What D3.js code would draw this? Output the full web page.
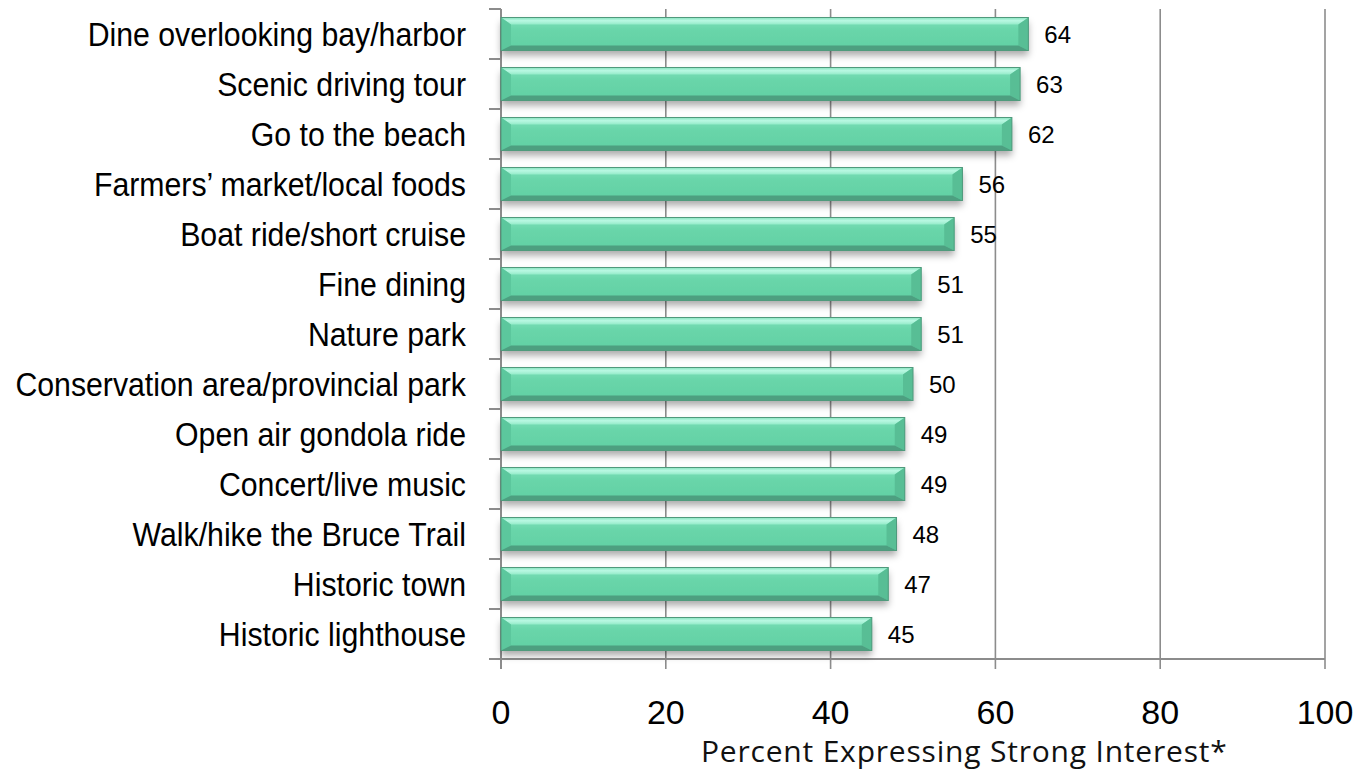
<!DOCTYPE html>
<html>
<head>
<meta charset="utf-8">
<script src="https://cdn.jsdelivr.net/npm/d3@7"></script>
<style>
  html, body { margin: 0; padding: 0; background: #fff; }
  svg { display: block; }
</style>
</head>
<body>
<svg id="chart" width="1359" height="772"></svg>
<script>
// Activities, ordered top to bottom
const categories = [
  "Dine overlooking bay/harbor",
  "Scenic driving tour",
  "Go to the beach",
  "Farmers\u2019 market/local foods",
  "Boat ride/short cruise",
  "Fine dining",
  "Nature park",
  "Conservation area/provincial park",
  "Open air gondola ride",
  "Concert/live music",
  "Walk/hike the Bruce Trail",
  "Historic town",
  "Historic lighthouse"
];
// Percent expressing strong interest
const values = [64, 63, 62, 56, 55, 51, 51, 50, 49, 49, 48, 47, 45];
const xTicks = [0, 20, 40, 60, 80, 100];
const xTitle = "Percent Expressing Strong Interest*";

(function draw() {
  const svg = d3.select("#chart");
  const plotLeft = 501, plotRight = 1325, plotTop = 9, plotBottom = 659;

  const x = d3.scaleLinear().domain([0, 100]).range([plotLeft, plotRight]);
  const y = d3.scaleBand().domain(categories).range([plotTop, plotBottom])
    .paddingInner(0.34).paddingOuter(0.17);

  const defs = svg.append("defs");
  const face = defs.append("linearGradient").attr("id", "faceFill")
    .attr("x1", 0).attr("y1", 0).attr("x2", 0).attr("y2", 1);
  [["0%", "#7ee0ba"], ["40%", "#68d5a9"], ["100%", "#62d0a4"]]
    .forEach(([o, c]) => face.append("stop").attr("offset", o).attr("stop-color", c));

  const topFacet = defs.append("linearGradient").attr("id", "topFacet")
    .attr("x1", 0).attr("y1", 0).attr("x2", 0).attr("y2", 1);
  [["0%", "#86e3be"], ["45%", "#b9f8e2"], ["100%", "#94ebc9"]]
    .forEach(([o, c]) => topFacet.append("stop").attr("offset", o).attr("stop-color", c));

  const shadow = defs.append("filter").attr("id", "barShadow")
    .attr("x", "-5%").attr("y", "-30%").attr("width", "110%").attr("height", "190%");
  shadow.append("feDropShadow").attr("dx", 0).attr("dy", 5).attr("stdDeviation", 3.5)
    .attr("flood-color", "#000").attr("flood-opacity", 0.33);

  // Vertical gridlines with tick extensions
  svg.append("g").selectAll("line").data(xTicks.slice(1)).join("line")
    .attr("x1", d => x(d)).attr("x2", d => x(d))
    .attr("y1", plotTop).attr("y2", plotBottom + 10)
    .attr("stroke", "#8c8c8c").attr("stroke-width", 1.6);

  // Axis lines
  svg.append("line").attr("x1", plotLeft).attr("x2", plotRight)
    .attr("y1", plotBottom).attr("y2", plotBottom)
    .attr("stroke", "#8c8c8c").attr("stroke-width", 2);
  svg.append("line").attr("x1", plotLeft).attr("x2", plotLeft)
    .attr("y1", plotTop).attr("y2", plotBottom + 10)
    .attr("stroke", "#8c8c8c").attr("stroke-width", 2);

  // Category tick marks on the left axis
  const yTickPos = d3.range(categories.length + 1)
    .map(i => plotTop + i * (plotBottom - plotTop) / categories.length);
  svg.append("g").selectAll("line").data(yTickPos).join("line")
    .attr("x1", plotLeft - 12).attr("x2", plotLeft).attr("y1", d => d).attr("y2", d => d)
    .attr("stroke", "#8c8c8c").attr("stroke-width", 2);

  // Bevelled bars
  const bevelW = 10, bevelTop = 7, bevelBottom = 5;
  const bars = svg.append("g").selectAll("g").data(categories).join("g")
    .attr("transform", d => `translate(0,${y(d)})`);
  const h = y.bandwidth();
  bars.append("rect")
    .attr("x", x(0)).attr("y", 0)
    .attr("width", (d, i) => x(values[i]) - x(0)).attr("height", h)
    .attr("fill", "url(#faceFill)")
    .attr("filter", "url(#barShadow)");
  // top facet
  bars.append("path")
    .attr("d", (d, i) => {
      const x0 = x(0), x1 = x(values[i]);
      return `M${x0},0L${x1},0L${x1 - bevelW},${bevelTop}L${x0 + bevelW},${bevelTop}Z`;
    })
    .attr("fill", "url(#topFacet)");
  // left facet
  bars.append("path")
    .attr("d", () => {
      const x0 = x(0);
      return `M${x0},0L${x0 + bevelW},${bevelTop}L${x0 + bevelW},${h - bevelBottom}L${x0},${h}Z`;
    })
    .attr("fill", "#5cc79d");
  // right facet
  bars.append("path")
    .attr("d", (d, i) => {
      const x1 = x(values[i]);
      return `M${x1},0L${x1},${h}L${x1 - bevelW},${h - bevelBottom}L${x1 - bevelW},${bevelTop}Z`;
    })
    .attr("fill", "#58be95");
  // bottom facet
  bars.append("path")
    .attr("d", (d, i) => {
      const x0 = x(0), x1 = x(values[i]);
      return `M${x0},${h}L${x0 + bevelW},${h - bevelBottom}L${x1 - bevelW},${h - bevelBottom}L${x1},${h}Z`;
    })
    .attr("fill", "#4d9f80");
  // outline
  bars.append("rect")
    .attr("x", x(0)).attr("y", 0)
    .attr("width", (d, i) => x(values[i]) - x(0)).attr("height", h)
    .attr("fill", "none").attr("stroke", "#4f9a7c").attr("stroke-width", 1);

  // Value labels
  svg.append("g").selectAll("text").data(categories).join("text")
    .attr("x", (d, i) => x(values[i]) + 16)
    .attr("y", d => y(d) + h / 2)
    .attr("dy", "0.36em")
    .attr("font-family", "Liberation Sans, Arial, sans-serif")
    .attr("font-size", 24).attr("fill", "#000")
    .text((d, i) => values[i]);

  // Category labels (condensed horizontally)
  svg.append("g").selectAll("text").data(categories).join("text")
    .attr("transform", d => `translate(466,${y(d) + h / 2}) scale(0.89,1)`)
    .attr("dy", "0.36em").attr("text-anchor", "end")
    .attr("font-family", "Liberation Sans, Arial, sans-serif")
    .attr("font-size", 34).attr("fill", "#000")
    .text(d => d);

  // X tick labels
  svg.append("g").selectAll("text").data(xTicks).join("text")
    .attr("x", d => x(d)).attr("y", 724).attr("text-anchor", "middle")
    .attr("font-family", "Liberation Sans, Arial, sans-serif")
    .attr("font-size", 34).attr("fill", "#000")
    .text(d => d);

  // X axis title
  svg.append("text")
    .attr("x", 701).attr("y", 762)
    .attr("font-family", "Open Sans, sans-serif")
    .attr("font-size", 30).attr("letter-spacing", 0.8).attr("fill", "#111")
    .text(xTitle);
})();
</script>
</body>
</html>
